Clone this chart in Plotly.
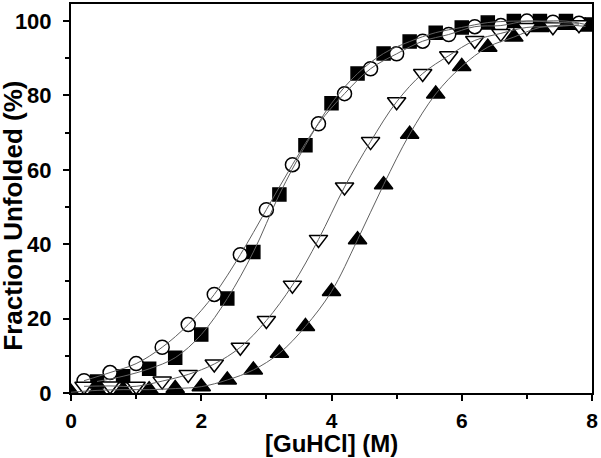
import plotly.graph_objects as go

# [GuHCl] (M) for each series
x_square = [0.4, 0.8, 1.2, 1.6, 2.0, 2.4, 2.8, 3.2, 3.6, 4.0, 4.4, 4.8, 5.2, 5.6, 6.0, 6.4, 6.8, 7.2, 7.6, 7.9]
x_circle = [0.2, 0.6, 1.0, 1.4, 1.8, 2.2, 2.6, 3.0, 3.4, 3.8, 4.2, 4.6, 5.0, 5.4, 5.8, 6.2, 6.6, 7.0, 7.4, 7.8]
x_tri_down = [0.2, 0.6, 1.0, 1.4, 1.8, 2.2, 2.6, 3.0, 3.4, 3.8, 4.2, 4.6, 5.0, 5.4, 5.8, 6.2, 6.6, 7.0, 7.4, 7.8]
x_tri_up = [0.0, 0.4, 0.8, 1.2, 1.6, 2.0, 2.4, 2.8, 3.2, 3.6, 4.0, 4.4, 4.8, 5.2, 5.6, 6.0, 6.4, 6.8, 7.2, 7.6, 7.9]

# Fraction unfolded (%)
y_square = [3.1, 4.5, 6.5, 9.5, 15.7, 25.4, 37.9, 53.4, 66.6, 77.9, 85.9, 91.3, 94.5, 96.9, 98.3, 99.6, 100.0, 100.0, 100.0, 99.1]
y_circle = [3.3, 5.5, 7.9, 12.3, 18.4, 26.5, 37.2, 49.3, 61.4, 72.4, 80.5, 87.2, 91.2, 94.6, 96.4, 98.5, 98.8, 100.0, 99.7, 99.4]
y_tri_down = [1.8, 1.9, 1.8, 3.2, 5.0, 7.8, 12.3, 19.5, 29.0, 41.3, 55.4, 67.6, 78.3, 85.9, 90.7, 94.8, 96.7, 98.3, 98.5, 99.0]
y_tri_up = [0.2, 0.7, 0.9, 0.9, 1.2, 1.7, 3.5, 6.2, 10.7, 17.9, 27.3, 41.2, 56.0, 69.6, 80.4, 87.8, 93.0, 95.7, 98.3, 98.9, 98.6]

series = [
    (x_square, y_square, "square", "black", 13),
    (x_tri_up, y_tri_up, "triangle-up", "black", 16),
    (x_circle, y_circle, "circle", "white", 14),
    (x_tri_down, y_tri_down, "triangle-down", "white", 16),
]

fig = go.Figure()

for xs, ys, sym, fill, size in series:
    fig.add_trace(go.Scatter(
        x=xs, y=ys, mode="markers",
        marker=dict(symbol=sym, size=size, color=fill,
                    line=dict(color="black", width=1.5)),
        showlegend=False,
    ))

# thin fit-like curves drawn over the symbols
for xs, ys, sym, fill, size in series:
    fig.add_trace(go.Scatter(
        x=xs, y=ys, mode="lines",
        line=dict(color="#606060", width=1, shape="spline", smoothing=1),
        showlegend=False,
    ))

font_bold = dict(family="Liberation Sans, Arial, sans-serif", size=22, color="black", weight="bold")

fig.update_layout(
    width=601, height=458,
    margin=dict(l=71, r=9, t=4, b=65),
    plot_bgcolor="white", paper_bgcolor="white",
    font=font_bold,
)

fig.update_xaxes(
    range=[0, 8], tickvals=[0, 2, 4, 6, 8],
    ticks="outside", ticklen=6, tickwidth=1.5, tickcolor="black",
    minor=dict(tickvals=[1, 3, 5, 7], ticks="outside", ticklen=4, tickwidth=1.5, tickcolor="black"),
    showline=True, linecolor="black", linewidth=2, mirror=True,
    showgrid=False, zeroline=False, automargin=False,
    tickfont=dict(font_bold, size=21), ticklabelstandoff=2,
)

fig.update_yaxes(
    range=[0, 104.6], tickvals=[0, 20, 40, 60, 80, 100],
    ticks="outside", ticklen=6, tickwidth=1.5, tickcolor="black",
    minor=dict(tickvals=[10, 30, 50, 70, 90], ticks="outside", ticklen=4, tickwidth=1.5, tickcolor="black"),
    showline=True, linecolor="black", linewidth=2, mirror=True,
    showgrid=False, zeroline=False, automargin=False,
    tickfont=font_bold, ticklabelstandoff=7,
)

# axis titles as annotations so they can be placed where the original has them
fig.add_annotation(text="[GuHCl] (M)", xref="paper", yref="paper", x=0.5, y=-0.129,
                   xanchor="center", yanchor="middle", showarrow=False,
                   font=dict(font_bold, size=24))
fig.add_annotation(text="Fraction Unfolded (%)", xref="paper", yref="paper", x=-0.112, y=0.455,
                   xanchor="center", yanchor="middle", textangle=-90, showarrow=False,
                   font=dict(font_bold, size=26))

# page body has a default 8px margin; drop it so the figure sits at the window corner
fig.write_html("out.html", config={"displayModeBar": False},
               post_script="document.body.style.margin='0';")
